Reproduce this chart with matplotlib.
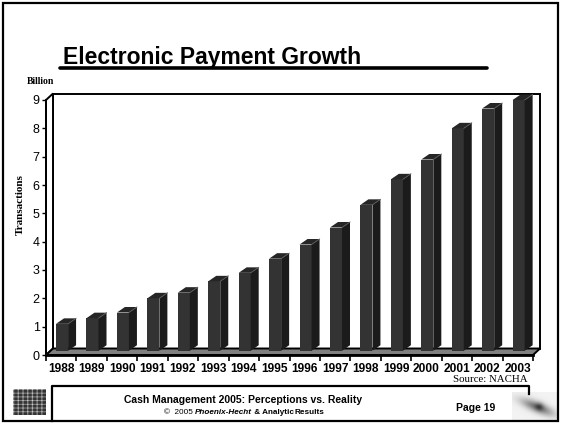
import numpy as np
import matplotlib
matplotlib.use("Agg")
import matplotlib.pyplot as plt
from matplotlib.patches import Polygon, Rectangle

# ── data ────────────────────────────────────────────────────────────────
years = ["1988", "1989", "1990", "1991", "1992", "1993", "1994", "1995",
         "1996", "1997", "1998", "1999", "2000", "2001", "2002", "2003"]
transactions = [1.1, 1.3, 1.5, 2.0, 2.2, 2.6, 2.9, 3.4,
                3.9, 4.5, 5.3, 6.2, 6.9, 8.0, 8.7, 9.0]
y_ticks = list(range(10))

SANS = "Liberation Sans"
SERIF = "Liberation Serif"
W, H = 563, 426

fig = plt.figure(figsize=(W / 100, H / 100), dpi=100)
fig.patch.set_facecolor("white")

# decoration layer in pixel coordinates
deco = fig.add_axes([0, 0, 1, 1])
deco.set_xlim(0, W); deco.set_ylim(H, 0); deco.axis("off")

# ── chart axes: front plane of the 3-D box ──────────────────────────────
x0, x1, y0, y1 = 46, 533, 355, 100
ax = fig.add_axes([x0 / W, (H - y0) / H, (x1 - x0) / W, (y0 - y1) / H])
ax.patch.set_visible(False)
n = len(years)
ax.set_xlim(-0.5, n - 0.5)
ax.set_ylim(0, 9)

px_x = (x1 - x0) / n          # pixels per category
px_y = (y0 - y1) / 9          # pixels per billion
wdx, wdy = 7 / px_x, 6.5 / px_y     # wall depth
bdx, bdy = 8 / px_x, 5.5 / px_y     # bar depth
bl, br, base = -0.17, 0.225, 0.15   # bar front face

lw = 1.4
# back wall and left side wall
ax.add_patch(Polygon([(-0.5 + wdx, wdy), (n - 0.5 + wdx, wdy), (n - 0.5 + wdx, 9 + wdy),
                      (-0.5 + wdx, 9 + wdy)], closed=True, fc="white", ec="black",
                     lw=lw, clip_on=False, zorder=1))
ax.add_patch(Polygon([(-0.5, 0), (-0.5 + wdx, wdy), (-0.5 + wdx, 9 + wdy), (-0.5, 9)],
                     closed=True, fc="white", ec="black", lw=lw, clip_on=False, zorder=1))
# floor
ax.add_patch(Polygon([(-0.5, 0), (n - 0.5, 0), (n - 0.5 + wdx, wdy), (-0.5 + wdx, wdy)],
                     closed=True, fc="#808080", ec="black", lw=lw, clip_on=False, zorder=2))

# bars
for i, v in enumerate(transactions):
    L, R = i + bl, i + br
    ax.add_patch(Polygon([(L, base), (R, base), (R, v), (L, v)], closed=True,
                         fc="#333333", ec="none", clip_on=False, zorder=3))
    ax.add_patch(Polygon([(R, base), (R + bdx, base + bdy), (R + bdx, v + bdy), (R, v)],
                         closed=True, fc="#1b1b1b", ec="none", clip_on=False, zorder=3))
    ax.add_patch(Polygon([(L, v), (R, v), (R + bdx, v + bdy), (L + bdx, v + bdy)],
                         closed=True, fc="#262626", ec="none", clip_on=False, zorder=3))
    ax.plot([R, R + bdx], [v, v + bdy], color="#5a5a5a", lw=0.6, clip_on=False, zorder=3)

for s in ["top", "right"]:
    ax.spines[s].set_visible(False)
ax.spines["left"].set_linewidth(lw)
ax.spines["bottom"].set_linewidth(2.0)
ax.spines["left"].set_zorder(4)
ax.spines["bottom"].set_zorder(4)

ax.set_yticks(y_ticks)
ax.set_yticklabels([str(t) for t in y_ticks], fontsize=9, family=SANS)
ax.tick_params(axis="y", length=3, width=1, pad=1.5)
ax.set_xticks(range(n))
ax.set_xticklabels(years, fontsize=8.6, family=SANS, fontweight="bold")
ax.set_xticks(np.arange(-0.5, n), minor=True)
ax.tick_params(axis="x", which="major", length=0, pad=6)
ax.tick_params(axis="x", which="minor", length=4, width=1.2)

# ── slide decoration ────────────────────────────────────────────────────
deco.add_patch(Rectangle((3, 3), 555, 418, fill=False, ec="black", lw=1.6))
deco.text(63, 64, "Electronic Payment Growth", family=SANS, fontweight="bold",
          fontsize=16.5, ha="left", va="baseline")
deco.plot([60, 487], [68, 68], color="black", lw=2.6, solid_capstyle="round")

deco.text(27, 81, "Billion", family=SERIF, fontweight="bold", fontsize=7, va="center")
deco.text(20, 205, "Transactions", family=SERIF, fontweight="bold", fontsize=8,
          rotation=90, ha="center", va="center")
deco.text(528, 379, "Source: NACHA", family=SERIF, fontsize=7.8, ha="right", va="center")

# footer box
deco.plot([52, 52, 529, 529], [421, 386, 386, 394], color="black", lw=1.6)
deco.text(243, 400, "Cash Management 2005: Perceptions vs. Reality", family=SANS,
          fontweight="bold", fontsize=7.5, ha="center", va="center")
t = deco.text(164, 413, "\u00a9  2005 ", family=SANS, fontsize=5.9, va="center")
t = deco.annotate("Phoenix-Hecht", xy=(1, 0), xycoords=t, va="bottom",
                  family=SANS, fontsize=5.9, style="italic", fontweight="bold")
t = deco.annotate(" & Analytic", xy=(1, 0), xycoords=t, va="bottom",
                  family=SANS, fontsize=5.9, fontweight="bold")
t = deco.annotate("Results", xy=(1, 0), xycoords=t, va="bottom",
                  family=SANS, fontsize=5.9, fontweight="bold")
deco.text(476, 408, "Page 19", family=SANS, fontweight="bold", fontsize=7.5,
          ha="center", va="center")

# plaid icon (left) and blurred logo (right)
g = np.arange(28)
lines = ((g % 4) == 0).astype(float)
plaid = 0.2 + 0.35 * lines[:, None] + 0.35 * lines[None, :]
deco.imshow(plaid, extent=(13, 46, 415, 389), cmap="gray", vmin=0, vmax=1,
            interpolation="bilinear", aspect="auto")
yy, xx = np.mgrid[0:30, 0:45]
d = np.abs((yy - 7) - 0.4 * (xx - 3)) / 6.0
blob = 0.95 - 0.5 * np.exp(-d ** 2) * np.exp(-((xx - 25) / 16.0) ** 2) \
       - 0.25 * np.exp(-((xx - 27) ** 2 + (yy - 15) ** 2) / 18.0)
deco.imshow(blob, extent=(512, 557, 420, 392), cmap="gray", vmin=0, vmax=1,
            interpolation="bilinear", aspect="auto")
deco.set_xlim(0, W); deco.set_ylim(H, 0)

fig.savefig("out.png", dpi=100)
